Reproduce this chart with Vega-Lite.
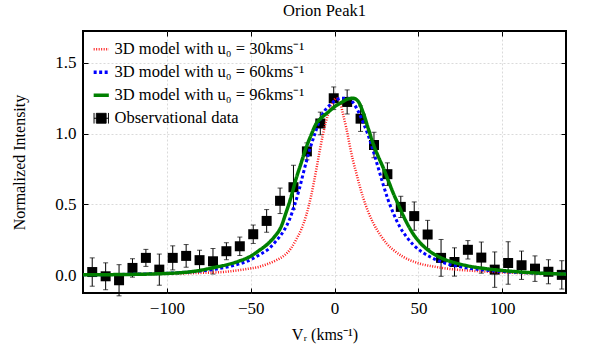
{
 "$schema": "https://vega.github.io/schema/vega-lite/v6.json",
 "width": 483, "height": 262,
 "autosize": {"type": "none"},
 "padding": {"left": 83, "top": 31, "right": 31, "bottom": 52},
 "background": "white",
 "title": {"text": "Orion Peak1", "fontSize": 16.5, "fontWeight": "normal", "font": "Liberation Serif", "color": "black", "offset": 11, "anchor": "middle"},
 "config": {
  "font": "Liberation Serif",
  "view": {"stroke": "black", "strokeWidth": 2},
  "axis": {"labelFont": "Liberation Serif", "labelFontSize": 17, "labelColor": "black", "titleFont": "Liberation Serif", "titleFontSize": 16, "titleFontWeight": "normal", "titleColor": "black", "tickColor": "black", "tickSize": -5, "labelPadding": 12, "domain": false, "gridColor": "#d0d0d0", "gridDash": [2, 2], "gridWidth": 0.8}
 },
 "datasets": {
  "obs": [
   {"x": -144.5, "y": 0.023, "err": 0.1},
   {"x": -136.5, "y": -0.007, "err": 0.095},
   {"x": -128.5, "y": -0.035, "err": 0.11},
   {"x": -120.5, "y": 0.052, "err": 0.065},
   {"x": -112.5, "y": 0.123, "err": 0.06},
   {"x": -104.5, "y": 0.04, "err": 0.11},
   {"x": -96.5, "y": 0.123, "err": 0.085},
   {"x": -88.5, "y": 0.137, "err": 0.08},
   {"x": -80.5, "y": 0.107, "err": 0.07},
   {"x": -72.5, "y": 0.099, "err": 0.09},
   {"x": -64.5, "y": 0.17, "err": 0.06},
   {"x": -56.5, "y": 0.205, "err": 0.065},
   {"x": -48.5, "y": 0.29, "err": 0.065},
   {"x": -40.5, "y": 0.384, "err": 0.08},
   {"x": -32.5, "y": 0.526, "err": 0.09},
   {"x": -24.5, "y": 0.622, "err": 0.155},
   {"x": -16.5, "y": 0.875, "err": 0.06},
   {"x": -8.5, "y": 1.072, "err": 0.08},
   {"x": -0.5, "y": 1.25, "err": 0.08},
   {"x": 7.5, "y": 1.224, "err": 0.085},
   {"x": 15.5, "y": 1.106, "err": 0.09},
   {"x": 23.5, "y": 0.92, "err": 0.09},
   {"x": 31.5, "y": 0.714, "err": 0.08},
   {"x": 39.5, "y": 0.483, "err": 0.075},
   {"x": 47.5, "y": 0.418, "err": 0.1},
   {"x": 55.5, "y": 0.288, "err": 0.1},
   {"x": 63.5, "y": 0.123, "err": 0.13},
   {"x": 71.5, "y": 0.094, "err": 0.1},
   {"x": 79.5, "y": 0.18, "err": 0.065},
   {"x": 87.5, "y": 0.125, "err": 0.11},
   {"x": 95.5, "y": 0.04, "err": 0.125},
   {"x": 103.5, "y": 0.087, "err": 0.15},
   {"x": 111.5, "y": 0.071, "err": 0.1},
   {"x": 119.5, "y": 0.047, "err": 0.09},
   {"x": 127.5, "y": 0.025, "err": 0.085},
   {"x": 135.5, "y": 0.003, "err": 0.1}
  ],
  "models": [
   {"s": "30", "x": -150, "y": 0.005}, {"s": "30", "x": -120, "y": 0.008}, {"s": "30", "x": -100, "y": 0.011}, {"s": "30", "x": -80, "y": 0.017}, {"s": "30", "x": -65, "y": 0.025}, {"s": "30", "x": -52, "y": 0.045}, {"s": "30", "x": -45, "y": 0.06}, {"s": "30", "x": -40, "y": 0.08}, {"s": "30", "x": -35, "y": 0.105}, {"s": "30", "x": -30, "y": 0.14}, {"s": "30", "x": -26, "y": 0.19}, {"s": "30", "x": -23, "y": 0.25}, {"s": "30", "x": -20, "y": 0.32}, {"s": "30", "x": -17, "y": 0.42}, {"s": "30", "x": -14, "y": 0.56}, {"s": "30", "x": -11, "y": 0.74}, {"s": "30", "x": -9, "y": 0.87}, {"s": "30", "x": -7, "y": 0.99}, {"s": "30", "x": -5, "y": 1.09}, {"s": "30", "x": -3, "y": 1.17}, {"s": "30", "x": -1, "y": 1.22}, {"s": "30", "x": 1, "y": 1.25}, {"s": "30", "x": 3, "y": 1.23}, {"s": "30", "x": 5, "y": 1.14}, {"s": "30", "x": 7, "y": 1.04}, {"s": "30", "x": 9, "y": 0.92}, {"s": "30", "x": 11, "y": 0.81}, {"s": "30", "x": 13, "y": 0.72}, {"s": "30", "x": 15, "y": 0.63}, {"s": "30", "x": 17, "y": 0.55}, {"s": "30", "x": 20, "y": 0.45}, {"s": "30", "x": 23, "y": 0.37}, {"s": "30", "x": 27, "y": 0.29}, {"s": "30", "x": 31, "y": 0.225}, {"s": "30", "x": 36, "y": 0.17}, {"s": "30", "x": 41, "y": 0.13}, {"s": "30", "x": 50, "y": 0.085}, {"s": "30", "x": 60, "y": 0.06}, {"s": "30", "x": 70, "y": 0.043}, {"s": "30", "x": 85, "y": 0.03}, {"s": "30", "x": 100, "y": 0.02}, {"s": "30", "x": 120, "y": 0.013}, {"s": "30", "x": 138, "y": 0.009},
   {"s": "60", "x": -150, "y": 0.003}, {"s": "60", "x": -120, "y": 0.008}, {"s": "60", "x": -100, "y": 0.014}, {"s": "60", "x": -80, "y": 0.03}, {"s": "60", "x": -70, "y": 0.045}, {"s": "60", "x": -60, "y": 0.07}, {"s": "60", "x": -50, "y": 0.11}, {"s": "60", "x": -44, "y": 0.15}, {"s": "60", "x": -40, "y": 0.18}, {"s": "60", "x": -35, "y": 0.24}, {"s": "60", "x": -30, "y": 0.32}, {"s": "60", "x": -27, "y": 0.39}, {"s": "60", "x": -24, "y": 0.49}, {"s": "60", "x": -21, "y": 0.61}, {"s": "60", "x": -18, "y": 0.75}, {"s": "60", "x": -15, "y": 0.88}, {"s": "60", "x": -12, "y": 0.99}, {"s": "60", "x": -9, "y": 1.09}, {"s": "60", "x": -6, "y": 1.16}, {"s": "60", "x": -3, "y": 1.2}, {"s": "60", "x": 0, "y": 1.23}, {"s": "60", "x": 4, "y": 1.25}, {"s": "60", "x": 8, "y": 1.25}, {"s": "60", "x": 11, "y": 1.22}, {"s": "60", "x": 14, "y": 1.16}, {"s": "60", "x": 17, "y": 1.08}, {"s": "60", "x": 20, "y": 0.99}, {"s": "60", "x": 23, "y": 0.88}, {"s": "60", "x": 26, "y": 0.76}, {"s": "60", "x": 29, "y": 0.64}, {"s": "60", "x": 32, "y": 0.53}, {"s": "60", "x": 35, "y": 0.44}, {"s": "60", "x": 39, "y": 0.34}, {"s": "60", "x": 43, "y": 0.27}, {"s": "60", "x": 47, "y": 0.215}, {"s": "60", "x": 52, "y": 0.165}, {"s": "60", "x": 57, "y": 0.13}, {"s": "60", "x": 66, "y": 0.085}, {"s": "60", "x": 76, "y": 0.058}, {"s": "60", "x": 90, "y": 0.036}, {"s": "60", "x": 110, "y": 0.02}, {"s": "60", "x": 138, "y": 0.01},
   {"s": "96", "x": -150, "y": 0.003}, {"s": "96", "x": -130, "y": 0.005}, {"s": "96", "x": -110, "y": 0.009}, {"s": "96", "x": -100, "y": 0.013}, {"s": "96", "x": -90, "y": 0.02}, {"s": "96", "x": -80, "y": 0.035}, {"s": "96", "x": -72, "y": 0.055}, {"s": "96", "x": -64, "y": 0.075}, {"s": "96", "x": -57, "y": 0.1}, {"s": "96", "x": -50, "y": 0.135}, {"s": "96", "x": -45, "y": 0.175}, {"s": "96", "x": -40, "y": 0.22}, {"s": "96", "x": -36, "y": 0.27}, {"s": "96", "x": -32, "y": 0.34}, {"s": "96", "x": -29, "y": 0.44}, {"s": "96", "x": -26, "y": 0.55}, {"s": "96", "x": -23, "y": 0.68}, {"s": "96", "x": -20, "y": 0.79}, {"s": "96", "x": -17, "y": 0.9}, {"s": "96", "x": -14, "y": 0.99}, {"s": "96", "x": -11, "y": 1.07}, {"s": "96", "x": -8, "y": 1.11}, {"s": "96", "x": -4, "y": 1.15}, {"s": "96", "x": 0, "y": 1.19}, {"s": "96", "x": 4, "y": 1.22}, {"s": "96", "x": 8, "y": 1.245}, {"s": "96", "x": 11, "y": 1.25}, {"s": "96", "x": 14, "y": 1.23}, {"s": "96", "x": 17, "y": 1.15}, {"s": "96", "x": 20, "y": 1.04}, {"s": "96", "x": 23, "y": 0.93}, {"s": "96", "x": 26, "y": 0.84}, {"s": "96", "x": 29, "y": 0.76}, {"s": "96", "x": 32, "y": 0.67}, {"s": "96", "x": 35, "y": 0.58}, {"s": "96", "x": 38, "y": 0.5}, {"s": "96", "x": 41, "y": 0.42}, {"s": "96", "x": 44, "y": 0.35}, {"s": "96", "x": 47, "y": 0.29}, {"s": "96", "x": 51, "y": 0.23}, {"s": "96", "x": 55, "y": 0.185}, {"s": "96", "x": 60, "y": 0.145}, {"s": "96", "x": 66, "y": 0.11}, {"s": "96", "x": 72, "y": 0.088}, {"s": "96", "x": 80, "y": 0.065}, {"s": "96", "x": 90, "y": 0.047}, {"s": "96", "x": 100, "y": 0.034}, {"s": "96", "x": 115, "y": 0.02}, {"s": "96", "x": 138, "y": 0.008}
  ]
 },
 "layer": [
  {
   "data": {"name": "obs"},
   "mark": {"type": "errorbar", "color": "black", "thickness": 1, "ticks": {"size": 5, "thickness": 1}},
   "encoding": {
    "x": {"field": "x", "type": "quantitative", "scale": {"domain": [-150, 138], "nice": false, "zero": false}, "axis": {"orient": "bottom", "values": [-100, -50, 0, 50, 100], "format": "d", "grid": true, "title": "Vᵣ (kms⁻¹)", "titlePadding": 10}},
    "y": {"field": "y", "type": "quantitative", "scale": {"domain": [-0.125, 1.725], "nice": false, "zero": false}, "axis": {"orient": "left", "values": [0, 0.5, 1, 1.5], "format": ".1f", "grid": true, "title": "Normalized Intensity", "titlePadding": 27}},
    "yError": {"field": "err"}
   }
  },
  {
   "data": {"name": "obs"},
   "mark": {"type": "square", "size": 100, "color": "black", "filled": true, "opacity": 1},
   "encoding": {
    "x": {"field": "x", "type": "quantitative", "axis": null},
    "y": {"field": "y", "type": "quantitative", "axis": null}
   }
  },
  {
   "data": {"name": "models"},
   "mark": {"type": "line", "interpolate": "monotone"},
   "encoding": {
    "x": {"field": "x", "type": "quantitative", "axis": {"orient": "top", "values": [-100, -50, 0, 50, 100], "labels": false, "grid": false, "title": null}},
    "y": {"field": "y", "type": "quantitative", "axis": {"orient": "right", "values": [0, 0.5, 1, 1.5], "labels": false, "grid": false, "title": null}},
    "color": {"field": "s", "type": "nominal", "scale": {"domain": ["30", "60", "96", "obs"], "range": ["#ff1a1a", "#0000ff", "#008000", "#000000"]},
     "legend": {"title": null, "orient": "top-left", "offset": 6, "padding": 4, "labelFont": "Liberation Serif", "labelFontSize": 16.5, "labelColor": "black", "labelLimit": 400, "symbolSize": 230, "rowPadding": 6, "labelOffset": 5, "symbolType": "stroke",
      "labelExpr": "datum.value == 'obs' ? 'Observational data' : '3D model with u₀ = ' + datum.value + 'kms⁻¹'",
      "encode": {"symbols": {"update": {
       "shape": {"signal": "datum.value == 'obs' ? 'M-0.65,-0.65H0.65V0.65H-0.65Z M-0.95,-0.7V0.7 M0.95,-0.7V0.7 M-0.95,0H0.95' : 'stroke'"},
       "strokeDash": {"signal": "datum.value == '30' ? [1, 1.5] : datum.value == '60' ? [3, 2.5] : [1, 0]"},
       "strokeWidth": {"signal": "datum.value == '30' ? 2.5 : datum.value == 'obs' ? 1 : 3.5"},
       "fill": {"signal": "datum.value == 'obs' ? 'black' : 'transparent'"},
       "opacity": {"value": 1}
      }}}
     }},
    "strokeDash": {"field": "s", "type": "nominal", "scale": {"domain": ["30", "60", "96"], "range": [[1, 1.5], [3, 2.5], [1, 0]]}, "legend": null},
    "strokeWidth": {"field": "s", "type": "nominal", "scale": {"domain": ["30", "60", "96"], "range": [2.5, 3.5, 3.5]}, "legend": null}
   }
  },
  {
   "mark": {"type": "text", "text": "H₂ 1 − 0S(1)", "align": "right", "baseline": "middle", "fontSize": 16, "fontStyle": "italic", "font": "Liberation Serif", "color": "black"},
   "encoding": {
    "x": {"datum": 137, "type": "quantitative", "axis": null},
    "y": {"datum": 1.51, "type": "quantitative", "axis": null}
   }
  },
  {
   "mark": {"type": "text", "text": "i = 90ᵒ", "align": "center", "baseline": "middle", "fontSize": 16, "font": "Liberation Serif", "color": "black"},
   "encoding": {
    "x": {"datum": 106, "type": "quantitative", "axis": null},
    "y": {"datum": 1.3, "type": "quantitative", "axis": null}
   }
  }
 ],
 "resolve": {"axis": {"x": "independent", "y": "independent"}}
}
